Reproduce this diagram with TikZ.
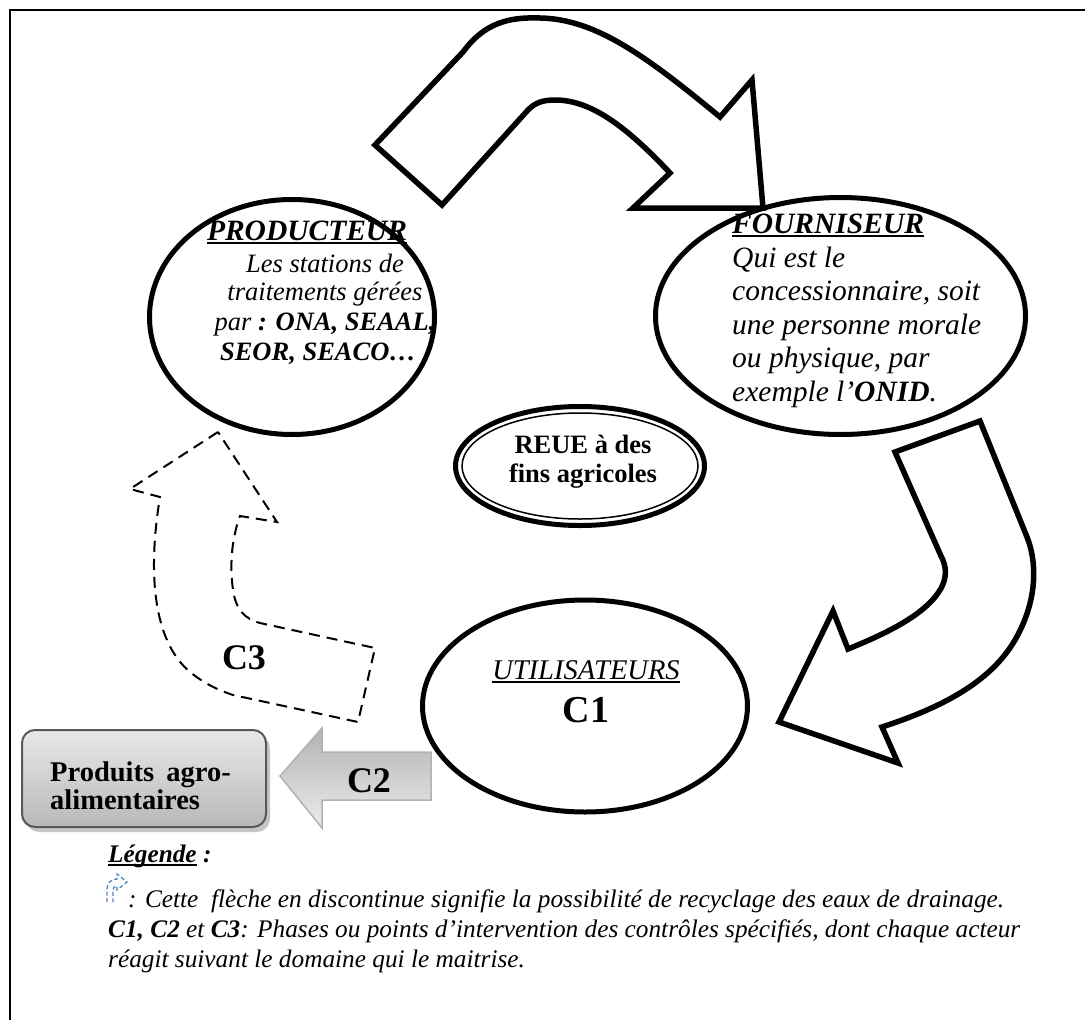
\documentclass[tikz,border=0pt]{standalone}
\usepackage{fontspec}
\setmainfont{Liberation Serif}
\usetikzlibrary{shapes.geometric}

% thick underline under a box of text
\newcommand\ulin[1]{\setbox0\hbox{#1}\rlap{\rule[-4pt]{\wd0}{2.2pt}}\box0}
\newcommand\headfont{\fontsize{29.5}{34}\selectfont\bfseries\itshape}
\newcommand\prodfont{\fontsize{26.5}{30}\selectfont\itshape}
\newcommand\fourfont{\fontsize{29.5}{34}\selectfont\itshape}
\newcommand\centerfont{\fontsize{26.5}{30}\selectfont\bfseries}
\newcommand\legfont{\fontsize{25.3}{30}\selectfont\itshape}
\newcommand\agrofont{\fontsize{28.5}{32}\selectfont\bfseries}

\definecolor{legendblue}{HTML}{4F81BD}

\begin{document}
\begin{tikzpicture}[x=1pt,y=-1pt,
  oval/.style={ellipse, draw, line width=5pt, inner sep=0pt},
  bigarrow/.style={draw, line width=5.5pt, line join=miter, miter limit=10, fill=white},
  recycle/.style={draw, line width=2pt, dash pattern=on 11pt off 7pt},
  lbl/.style={inner sep=0pt, anchor=base},
  lblw/.style={inner sep=0pt, anchor=base west},
  lble/.style={inner sep=0pt, anchor=base east}]
\useasboundingbox (0,0) rectangle (1085,1020);

% page frame
\draw[line width=2pt] (10,1020) -- (10,10) -- (1085,10);

% curved block arrow: producer -> supplier
\path[bigarrow] (375,145) -- (463,52)
  .. controls (485,22) and (510,17) .. (540,18)
  .. controls (595,19) and (645,55) .. (720,117)
  -- (752,80) -- (763,208) -- (633,208) -- (670,173)
  .. controls (625,125) and (590,100) .. (555,100)
  .. controls (542,100) and (535,103) .. (528,110)
  -- (442,205) -- cycle;

% curved block arrow: supplier -> users
\path[bigarrow] (895,452) -- (980,421) -- (1027,537)
  .. controls (1037,562) and (1038,600) .. (1015,640)
  .. controls (990,683) and (940,708) .. (882,727)
  -- (898,763) -- (779,722) -- (833,611) -- (848,649)
  .. controls (885,634) and (925,615) .. (940,590)
  .. controls (948,577) and (946,565) .. (941,556)
  -- cycle;

% dashed recycling arrow
\path[recycle] (218,432) -- (130,489) -- (160,497)
  .. controls (148,570) and (152,640) .. (190,672)
  .. controls (205,684) and (218,690) .. (233,695)
  -- (358,722) -- (375,648) -- (260,623)
  .. controls (245,619) and (236,610) .. (233,590)
  .. controls (229,560) and (233,535) .. (240,516)
  -- (277,522) -- cycle;
\node[lbl, font=\fontsize{36}{40}\selectfont\bfseries] (c3) at (244,669) {C3};

% actors
\node[oval, minimum width=285pt, minimum height=235pt] (prod) at (292,317) {};
\node[oval, minimum width=370pt, minimum height=237pt] (four) at (840.5,316) {};
\node[oval, minimum width=325pt, minimum height=212pt] (util) at (585,706) {};

% central double ellipse
\node[oval, minimum width=249pt, minimum height=119pt] (reue) at (580,466) {};
\node[ellipse, draw, line width=1.5pt, inner sep=0pt, minimum width=236pt, minimum height=106pt] (reuein) at (reue.center) {};
\node[lbl, font=\centerfont] (reue1) at (583,453) {REUE à des};
\node[lbl, font=\centerfont] (reue2) at (583,482) {fins agricoles};

% producer text
\node[lbl, font=\headfont] (prodh) at (307,240) {\ulin{PRODUCTEUR}};
\node[lbl, font=\prodfont] (prod1) at (325,272) {Les stations de};
\node[lbl, font=\prodfont] (prod2) at (325,300) {traitements gérées};
\node[lbl, font=\prodfont] (prod3) at (325,330) {par \textbf{: ONA, SEAAL,}};
\node[lbl, font=\prodfont] (prod4) at (318,360) {\textbf{SEOR, SEACO…}};

% supplier text
\node[lblw, font=\headfont] (fourh) at (732,233) {\ulin{FOURNISEUR}};
\node[lblw, font=\fourfont] (four1) at (732,267) {Qui est le};
\node[lblw, font=\fourfont] (four2) at (732,300) {concessionnaire, soit};
\node[lblw, font=\fourfont] (four3) at (732,334) {une personne morale};
\node[lblw, font=\fourfont] (four4) at (732,367) {ou physique, par};
\node[lblw, font=\fourfont] (four5) at (732,401) {exemple l’\textbf{ONID}.};

% users text
\node[lbl, font=\fontsize{28.5}{33}\selectfont\itshape] (utilh) at (586,679) {\ulin{UTILISATEURS}};
\node[lbl, font=\fontsize{38}{43}\selectfont\bfseries] (c1) at (586,722) {C1};

% products box with shadow
\fill[gray!45, rounded corners=13pt] (26,735) rectangle (270,832);
\node[draw=gray!70!black, line width=2pt, rounded corners=13pt,
      top color=gray!18, bottom color=gray!55,
      minimum width=244pt, minimum height=97pt] (agro) at (144,778.5) {};
\node[lblw, font=\agrofont] (agro1) at (50,781) {Produits};
\node[lble, font=\agrofont] (agro2) at (231,781) {agro-};
\node[lblw, font=\agrofont] (agro3) at (50,809) {alimentaires};

% grey block arrow from users to products
\path[draw=gray!60, line width=1.5pt, top color=gray!60, bottom color=gray!15]
  (431,752) -- (322,752) -- (322,728) -- (280,776) -- (322,828) -- (322,800) -- (431,800) -- cycle;
\node[lbl, font=\fontsize{36}{40}\selectfont\bfseries] (c2) at (369,792) {C2};

% legend
\node[lblw, font=\legfont] (leg0) at (108,862) {\ulin{\textbf{Légende}}\textbf{ :}};
\draw[legendblue, line width=1.3pt, dash pattern=on 4pt off 2.5pt]
  (107,902) -- (107,889) .. controls (107,883) and (111,879) .. (117,879)
  -- (117,874) -- (127,882) -- (117,890) -- (117,886)
  .. controls (114,886) and (113,888) .. (113,891) -- (113,902);
\node[lblw, font=\legfont] (leg1) at (128,907) {: Cette\ \ flèche en discontinue signifie la possibilité de recyclage des eaux de drainage.};
\node[lblw, font=\legfont] (leg2) at (108,937) {\textbf{C1, C2} et \textbf{C3}: Phases ou points d’intervention des contrôles spécifiés, dont chaque acteur};
\node[lblw, font=\legfont] (leg3) at (108,967) {réagit suivant le domaine qui le maitrise.};
\end{tikzpicture}
\end{document}
